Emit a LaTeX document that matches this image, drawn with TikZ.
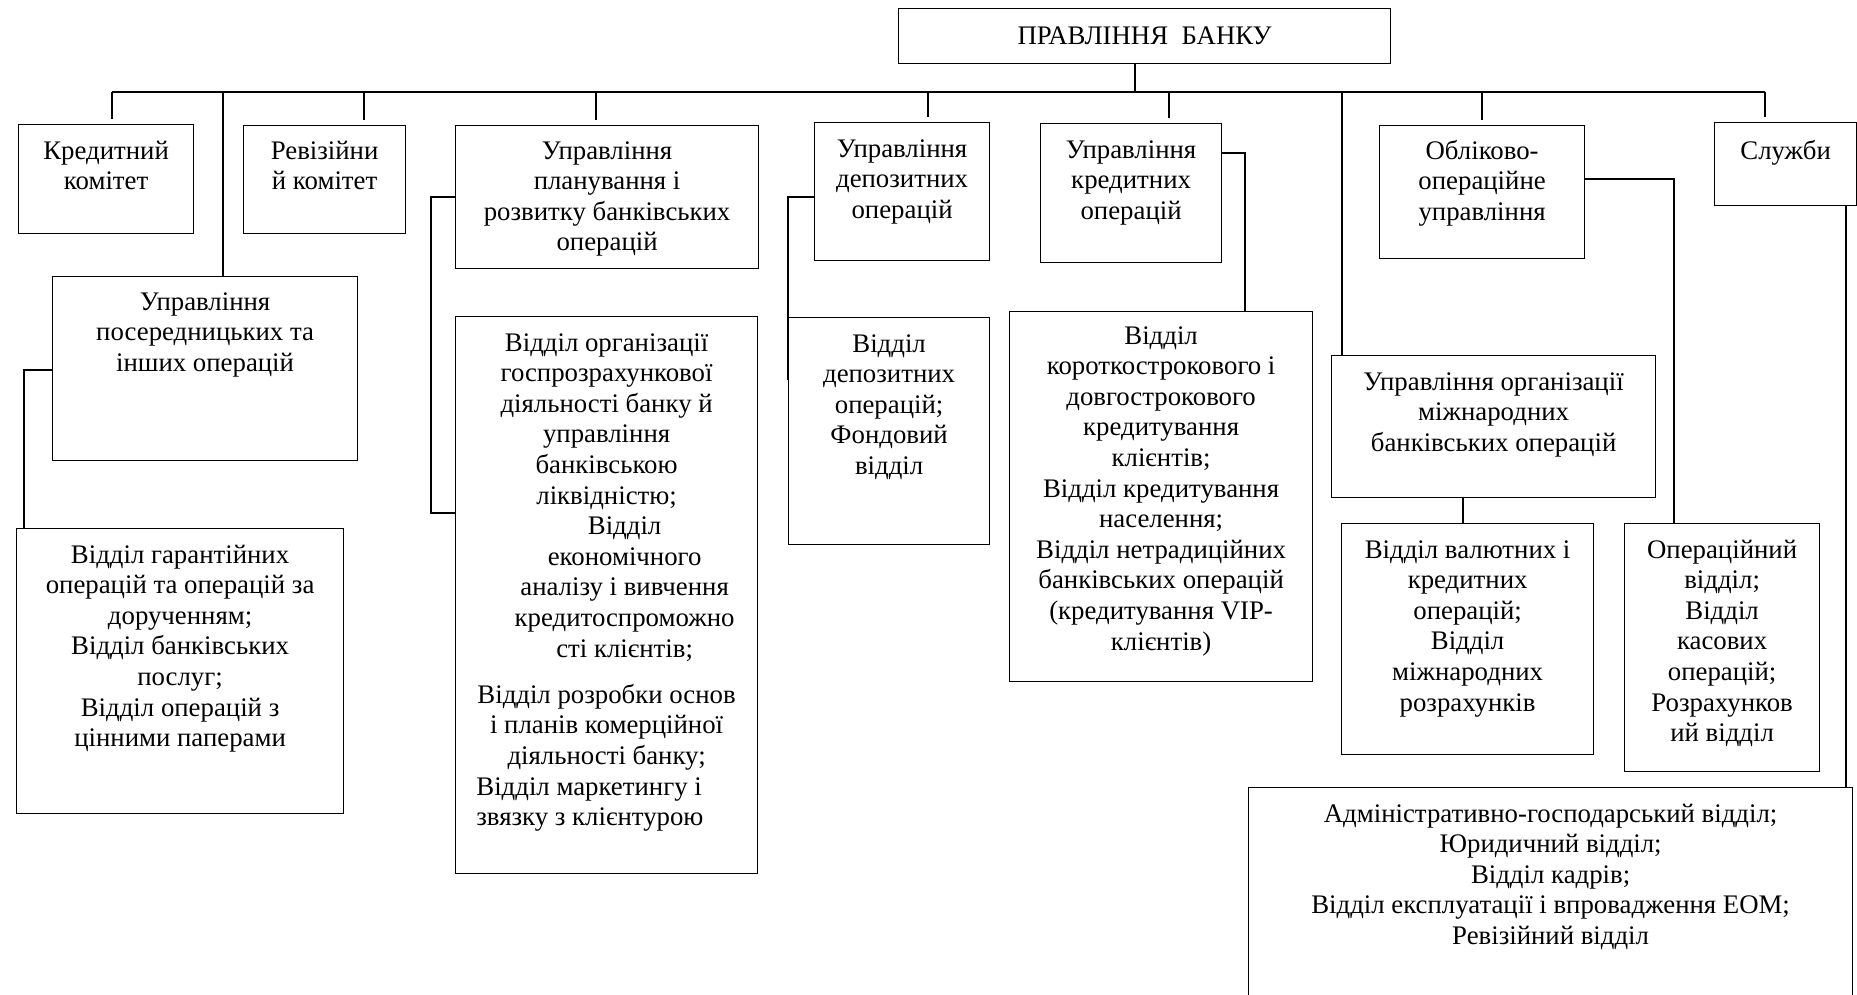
\documentclass[tikz,border=0pt]{standalone}
\usepackage{fontspec}
\setmainfont{Liberation Serif}
\newcommand\orgfont{\fontsize{13.4pt}{15.3pt}\selectfont}

\begin{document}
\begin{tikzpicture}[
        x=0.5pt, y=-0.5pt,
        unit/.style={rectangle, draw=black, line width=0.6pt, inner sep=0pt, anchor=north west},
        caption/.style={anchor=base, align=center, inner sep=0pt, font=\orgfont},
        link/.style={draw=black, line width=0.9pt}
    ]
        \useasboundingbox (0,0) rectangle (1857,995);
        \clip (0,0) rectangle (1857,995);
        % board and first row (caption base = last line)
        \node[unit, minimum width=246pt, minimum height=27.5pt] (board) at (898,8) {};
        \node[caption] (board-t) at ([yshift=-18.5pt]board.north) {ПРАВЛІННЯ~~БАНКУ};
        \node[unit, minimum width=87.5pt, minimum height=54.5pt] (credcom) at (18,124) {};
        \node[caption] (credcom-t) at ([yshift=-32.8pt]credcom.north) {Кредитний\\комітет};
        \node[unit, minimum width=81pt, minimum height=54pt] (auditcom) at (243,125) {};
        \node[caption] (auditcom-t) at ([yshift=-32.3pt]auditcom.north) {Ревізійни\\й комітет};
        \node[unit, minimum width=151.5pt, minimum height=71.5pt] (planning) at (455,125) {};
        \node[caption] (planning-t) at ([yshift=-62.9pt]planning.north) {Управління\\планування і\\розвитку банківських\\операцій};
        \node[unit, minimum width=87.5pt, minimum height=69pt] (deposit) at (814,122) {};
        \node[caption] (deposit-t) at ([yshift=-48.1pt]deposit.north) {Управління\\депозитних\\операцій};
        \node[unit, minimum width=90.5pt, minimum height=69.5pt] (lending) at (1040,123) {};
        \node[caption] (lending-t) at ([yshift=-48.1pt]lending.north) {Управління\\кредитних\\операцій};
        \node[unit, minimum width=102.5pt, minimum height=66.5pt] (accounting) at (1379,125) {};
        \node[caption] (accounting-t) at ([yshift=-47.6pt]accounting.north) {Обліково-\\операційне\\управління};
        \node[unit, minimum width=71pt, minimum height=41.5pt] (services) at (1714,122) {};
        \node[caption] (services-t) at ([yshift=-18.5pt]services.north) {Служби};
        % lower boxes
        \node[unit, minimum width=152.5pt, minimum height=92pt] (brokerage) at (52,276) {};
        \node[caption] (brokerage-t) at ([yshift=-47.6pt]brokerage.north) {Управління\\посередницьких та\\інших операцій};
        \node[unit, minimum width=163.5pt, minimum height=142.5pt] (guarantee) at (16,528) {};
        \node[caption] (guarantee-t) at ([yshift=-109.3pt]guarantee.north) {Відділ гарантійних\\операцій та операцій за\\дорученням;\\Відділ банківських\\послуг;\\Відділ операцій з\\цінними паперами};
        \node[unit, minimum width=151pt, minimum height=278.5pt] (planunits) at (455,316) {};
        \node[caption] (planunits-a) at ([yshift=-94pt]planunits.north) {Відділ організації\\госпрозрахункової\\діяльності банку й\\управління\\банківською\\ліквідністю;};
        \node[caption] (planunits-b) at ([xshift=9pt,yshift=-170.5pt]planunits.north) {Відділ\\економічного\\аналізу і вивчення\\кредитоспроможно\\сті клієнтів;};
        \node[caption] (planunits-c) at ([yshift=-224.1pt]planunits.north) {Відділ розробки основ\\і планів комерційної\\діяльності банку;};
        \node[caption, anchor=base west, align=left] (planunits-d) at ([xshift=10.5pt,yshift=-254.8pt]planunits.north west) {Відділ маркетингу і\\звязку з клієнтурою};
        \node[unit, minimum width=100.5pt, minimum height=113.5pt] (depunits) at (788,317) {};
        \node[caption] (depunits-t) at ([yshift=-78.7pt]depunits.north) {Відділ\\депозитних\\операцій;\\Фондовий\\відділ};
        \node[unit, minimum width=151.5pt, minimum height=185pt] (lendunits) at (1009,311) {};
        \node[caption] (lendunits-t) at ([yshift=-169.5pt]lendunits.north) {Відділ\\короткострокового і\\довгострокового\\кредитування\\клієнтів;\\Відділ кредитування\\населення;\\Відділ нетрадиційних\\банківських операцій\\(кредитування VIP-\\клієнтів)};
        \node[unit, minimum width=162pt, minimum height=71pt] (intl) at (1331,355) {};
        \node[caption] (intl-t) at ([yshift=-48.1pt]intl.north) {Управління організації\\міжнародних\\банківських операцій};
        \node[unit, minimum width=126pt, minimum height=115.5pt] (intlunits) at (1341,523) {};
        \node[caption] (intlunits-t) at ([yshift=-94pt]intlunits.north) {Відділ валютних і\\кредитних\\операцій;\\Відділ\\міжнародних\\розрахунків};
        \node[unit, minimum width=97.5pt, minimum height=124pt] (cashunits) at (1624,523) {};
        \node[caption] (cashunits-t) at ([yshift=-109.3pt]cashunits.north) {Операційний\\відділ;\\Відділ\\касових\\операцій;\\Розрахунков\\ий відділ};
        \node[unit, minimum width=302pt, minimum height=115pt] (adminunits) at (1248,787) {};
        \node[caption] (adminunits-t) at ([yshift=-78.7pt]adminunits.north) {Адміністративно-господарський відділ;\\Юридичний відділ;\\Відділ кадрів;\\Відділ експлуатації і впровадження ЕОМ;\\Ревізійний відділ};
        % bus and connectors
        \coordinate (busL) at (112,92);
        \coordinate (busR) at (1765,92);
        \coordinate (stem) at (1135,92);
        \draw[link] (busL) -- (busR);
        \draw[link] (stem) -- (stem |- board.south);
        \foreach \tx/\tn in {112/credcom, 364/auditcom, 596/planning, 928/deposit, 1169/lending, 1482/accounting, 1765/services} {
            \coordinate (tk) at (\tx,92);
            \draw[link, shorten >=2.5pt] (tk) -- (tk |- \tn.north);
        }
        \foreach \tx/\tn in {223/brokerage, 1342/intl} {
            \coordinate (tk) at (\tx,92);
            \draw[link] (tk) -- (tk |- \tn.north);
        }
        \draw[link] ([yshift=-47pt]brokerage.north west) -| ([xshift=4pt]guarantee.north west);
        \draw[link] ([yshift=-36pt]planning.north west) -- ++(-12pt,0) |- ([yshift=-98.5pt]planunits.north west);
        \draw[link] ([yshift=-37.5pt]deposit.north west) -| ([yshift=-31.5pt]depunits.north west);
        \draw[link] ([yshift=-15pt]lending.north east) -| ([xshift=-34pt]lendunits.north east);
        \draw[link] ([yshift=-27pt]accounting.north east) -| ([xshift=25pt]cashunits.north west);
        \draw[link] ([xshift=66pt]intl.south west) -- ([xshift=61pt]intlunits.north west);
        \draw[link] ([xshift=-5.5pt]services.south east) -- ([xshift=-3.5pt]adminunits.north east);
    \end{tikzpicture}
\end{document}
